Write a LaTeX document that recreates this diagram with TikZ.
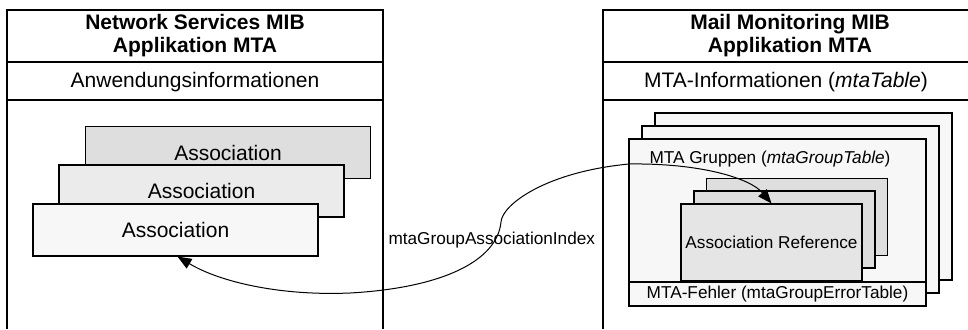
\documentclass[tikz,border=0pt]{standalone}
\usepackage{fontspec}
\setmainfont{Liberation Sans}
\usetikzlibrary{arrows.meta}
\definecolor{shadeA}{gray}{0.87}
\definecolor{shadeB}{gray}{0.92}
\definecolor{shadeC}{gray}{0.97}
\definecolor{shadeD}{gray}{0.90}
\begin{document}
\begin{tikzpicture}[x=1pt,y=-1pt,
  frame/.style={line width=1.3pt},
  bigtext/.style={font=\fontsize{21}{23}\selectfont},
  smalltext/.style={font=\fontsize{17.2}{20}\selectfont},
  card/.style={draw, line width=1.1pt, inner sep=0pt, minimum width=285pt,
    minimum height=52pt, bigtext},
  groupbox/.style={draw, line width=1.1pt, inner sep=0pt, minimum width=297pt,
    minimum height=167pt, fill=shadeC},
  refbox/.style={draw, line width=1.1pt, inner sep=0pt, minimum width=181pt,
    minimum height=77pt, smalltext},
  link/.style={line width=1pt, {Triangle[length=14pt,width=11pt]}-{Triangle[length=14pt,width=11pt]}}
]
\useasboundingbox (0,0) rectangle (968,329);

% left panel: Network Services MIB
\draw[frame] (7,329) -- (7,10) -- (383,10) -- (383,329);
\draw[frame] (7,62) -- (383,62);
\draw[frame] (7,100) -- (383,100);
\node[align=center, font=\fontsize{21}{23}\selectfont\bfseries] (ltitle) at (195,36)
  {Network Services MIB\\Applikation MTA};
\node[bigtext] (lsub) at (195,82) {Anwendungsinformationen};

% stacked association entries
\node[card, fill=shadeA] (a3) at (228,152.5) {Association};
\node[card, fill=shadeB] (a2) at (201.5,191) {Association};
\node[card, fill=shadeC] (a1) at (175.5,230) {Association};

% right panel: Mail Monitoring MIB
\draw[frame] (603,329) -- (603,10) -- (968,10);
\draw[frame] (603,62) -- (968,62);
\draw[frame] (603,100) -- (968,100);
\node[align=center, font=\fontsize{21}{23}\selectfont\bfseries] (rtitle) at (790,36)
  {Mail Monitoring MIB\\Applikation MTA};
\node[bigtext] (rsub) at (786,82) {MTA-Informationen (\textit{mtaTable})};

% stacked MTA group entries
\node[groupbox] (g3) at (803.5,196.5) {};
\node[groupbox] (g2) at (790.5,209.5) {};
\node[groupbox] (g1) at (777.5,222.5) {};
\node[smalltext, anchor=base west] (gtitle) at (646,163)
  {MTA Gruppen (\textit{mtaGroupTable})};
\node[draw, line width=1.1pt, fill=shadeC, inner sep=0pt, minimum width=297pt,
  minimum height=24pt, smalltext] (gerr) at (777.5,294)
  {MTA-Fehler (mtaGroupErrorTable)};

% stacked association references
\node[refbox, fill=shadeA] (r3) at (797,217) {};
\node[refbox, fill=shadeA] (r2) at (784.5,229.5) {};
\node[refbox, fill=shadeD] (r1) at (771.5,242.5) {Association Reference};

% index link between the two tables
\node[smalltext, anchor=west] (idx) at (385,240) {mtaGroupAssociationIndex};
\draw[link] ([xshift=2pt]a1.south)
  .. controls (220,282) and (280,296) .. (350,293)
  .. controls (440,288) and (497,262) .. (501,222)
  .. controls (502,205) and (545,172) .. (629,164)
  .. controls (700,163) and (750,178) .. (r1.north);
\end{tikzpicture}
\end{document}
